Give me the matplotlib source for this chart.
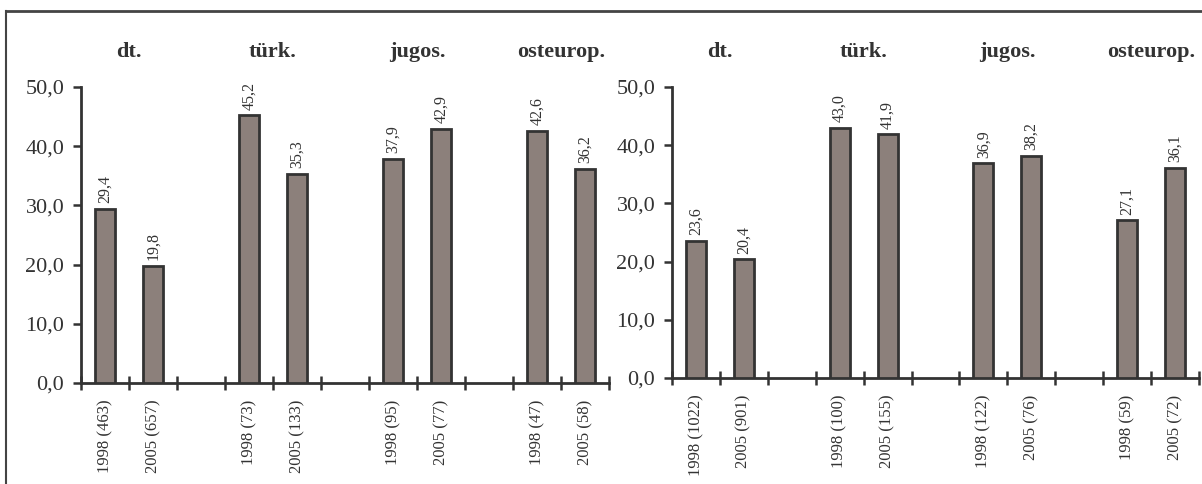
import numpy as np
import matplotlib
matplotlib.use("Agg")
import matplotlib.pyplot as plt
import matplotlib.transforms as mtransforms
from matplotlib.lines import Line2D
from matplotlib.ticker import FuncFormatter

plt.rcParams['font.family'] = ['Liberation Serif', 'DejaVu Serif']

groups = ['dt.', 'türk.', 'jugos.', 'osteurop.']

left_labels = ['1998 (463)', '2005 (657)', '1998 (73)', '2005 (133)',
               '1998 (95)', '2005 (77)', '1998 (47)', '2005 (58)']
left_values = [29.4, 19.8, 45.2, 35.3, 37.9, 42.9, 42.6, 36.2]

right_labels = ['1998 (1022)', '2005 (901)', '1998 (100)', '2005 (155)',
                '1998 (122)', '2005 (76)', '1998 (59)', '2005 (72)']
right_values = [23.6, 20.4, 43.0, 41.9, 36.9, 38.2, 27.1, 36.1]

bar_color = '#8c807b'
dark = '#333333'
W, H = 1202, 484


def comma(v, pos=None):
    return f"{v:.1f}".replace('.', ',')


def draw_panel(ax, labels, values):
    # two bars per group, one empty slot between groups
    pos = [g * 3 + k for g in range(len(groups)) for k in range(2)]
    ax.bar(pos, values, width=0.42, color=bar_color, edgecolor=dark,
           linewidth=2.0, zorder=3)
    for x, v in zip(pos, values):
        ax.annotate(comma(v), (x, v), xytext=(0, 4), textcoords='offset points',
                    rotation=90, ha='center', va='bottom', fontsize=11.5, color=dark)

    ax.set_xlim(-0.5, 3 * len(groups) - 1.5)
    ax.set_ylim(0, 50)
    ax.set_yticks(np.arange(0, 51, 10))
    ax.yaxis.set_major_formatter(FuncFormatter(comma))
    ax.tick_params(axis='y', direction='out', length=6, width=1.8, color=dark,
                   labelsize=16, labelcolor=dark, pad=6)

    bounds = np.arange(-0.5, 3 * len(groups) - 1.4, 1.0)
    ax.set_xticks(bounds)
    ax.set_xticklabels([])
    ax.tick_params(axis='x', which='major', direction='inout', length=10,
                   width=1.8, color=dark)
    ax.set_xticks(pos, minor=True)
    ax.set_xticklabels(labels, minor=True, rotation=90, fontsize=12, color=dark)
    ax.tick_params(axis='x', which='minor', length=0, pad=12)

    for s in ['top', 'right']:
        ax.spines[s].set_visible(False)
    for s in ['left', 'bottom']:
        ax.spines[s].set_color(dark)
        ax.spines[s].set_linewidth(2.0)

    trans = mtransforms.blended_transform_factory(ax.transData, ax.figure.transFigure)
    for g, name in enumerate(groups):
        ax.text(g * 3 + 0.5, 1 - 52 / H, name, transform=trans,
                ha='center', va='center', fontsize=16, fontweight='bold', color=dark)


fig = plt.figure(figsize=(W / 100, H / 100), dpi=100, facecolor='white')

ax1 = fig.add_axes([81 / W, (H - 383) / H, 528 / W, 296 / H])
ax2 = fig.add_axes([672 / W, (H - 378) / H, 527 / W, 291 / H])
ax1.patch.set_alpha(0)
ax2.patch.set_alpha(0)

draw_panel(ax1, left_labels, left_values)
draw_panel(ax2, right_labels, right_values)

# outer frame (top and left edges visible)
fig.add_artist(Line2D([6 / W, 1], [1 - 11 / H, 1 - 11 / H], transform=fig.transFigure,
                      color='#444444', lw=2))
fig.add_artist(Line2D([6 / W, 6 / W], [0, 1 - 11 / H], transform=fig.transFigure,
                      color='#444444', lw=1.5))

fig.savefig('out.png', dpi=100, facecolor='white')
